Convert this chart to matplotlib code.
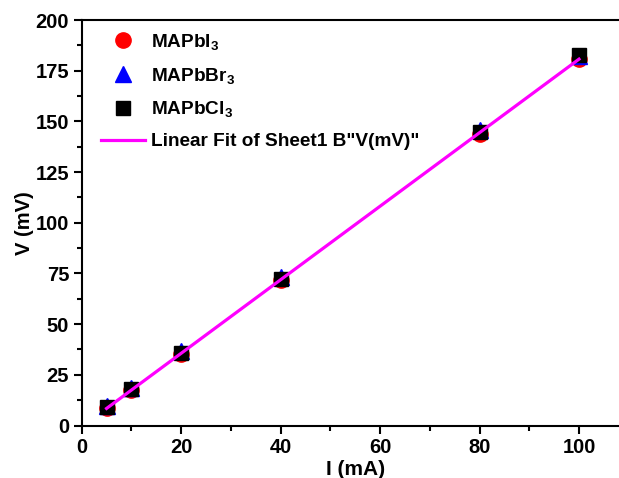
import matplotlib
matplotlib.use('Agg')
import matplotlib.pyplot as plt
import numpy as np
from matplotlib.ticker import MultipleLocator

plt.rcParams['font.family'] = ['Liberation Sans', 'DejaVu Sans']
plt.rcParams['font.weight'] = 'bold'
plt.rcParams['mathtext.fontset'] = 'custom'
plt.rcParams['mathtext.rm'] = 'Liberation Sans:bold'
plt.rcParams['mathtext.bf'] = 'Liberation Sans:bold'
plt.rcParams['mathtext.default'] = 'bf'

current = [5, 10, 20, 40, 80, 100]
v_mapbi3 = [8.5, 17.5, 35.5, 72.0, 144.0, 181.0]
v_mapbbr3 = [9.5, 18.5, 36.5, 73.0, 145.5, 182.0]
v_mapbcl3 = [9.0, 18.0, 36.0, 72.5, 145.0, 182.5]

x_ticks = [0, 20, 40, 60, 80, 100]
y_ticks = [0, 25, 50, 75, 100, 125, 150, 175, 200]

fig = plt.figure(figsize=(6.19, 4.78), dpi=100)
ax = fig.add_axes([81.7 / 619, 52.5 / 478, 110 * 4.973 / 619, 405.5 / 478])

ax.plot(current, v_mapbi3, 'o', color='#ff0000', ms=11, label='MAPbI$_3$', zorder=3)
ax.plot(current, v_mapbbr3, '^', color='#0000ff', ms=11, label='MAPbBr$_3$', zorder=4)
ax.plot(current, v_mapbcl3, 's', color='black', ms=9.5, label='MAPbCl$_3$', zorder=5)

# linear fit on first series
k, b = np.polyfit(current, v_mapbi3, 1)
xf = np.array([current[0], current[-1]])
ax.plot(xf, k * xf + b, color='#ff00ff', lw=2.3,
        label='Linear Fit of Sheet1 B"V(mV)"', zorder=6)

ax.set_xlim(0, 110)
ax.set_ylim(0, 200)
ax.set_xticks(x_ticks)
ax.set_yticks(y_ticks)
ax.xaxis.set_minor_locator(MultipleLocator(10))
ax.yaxis.set_minor_locator(MultipleLocator(12.5))
ax.tick_params(which='major', direction='out', length=6, width=1.5, labelsize=14.5, pad=3)
ax.tick_params(which='minor', direction='out', length=3.5, width=1.5)
for lab in ax.get_xticklabels() + ax.get_yticklabels():
    lab.set_fontweight('bold')
for s in ax.spines.values():
    s.set_linewidth(1.5)

ax.set_xlabel('I (mA)', fontsize=15, fontweight='bold', labelpad=2)
ax.set_ylabel('V (mV)', fontsize=14.5, fontweight='bold', labelpad=1)

ax.legend(loc='upper left', bbox_to_anchor=(0.008, 1.008), frameon=False,
          fontsize=13.7, handlelength=2.3, handletextpad=0.3,
          labelspacing=0.72, borderaxespad=0.4, markerscale=1.0,
          numpoints=1)

fig.savefig('out.png', dpi=100)
